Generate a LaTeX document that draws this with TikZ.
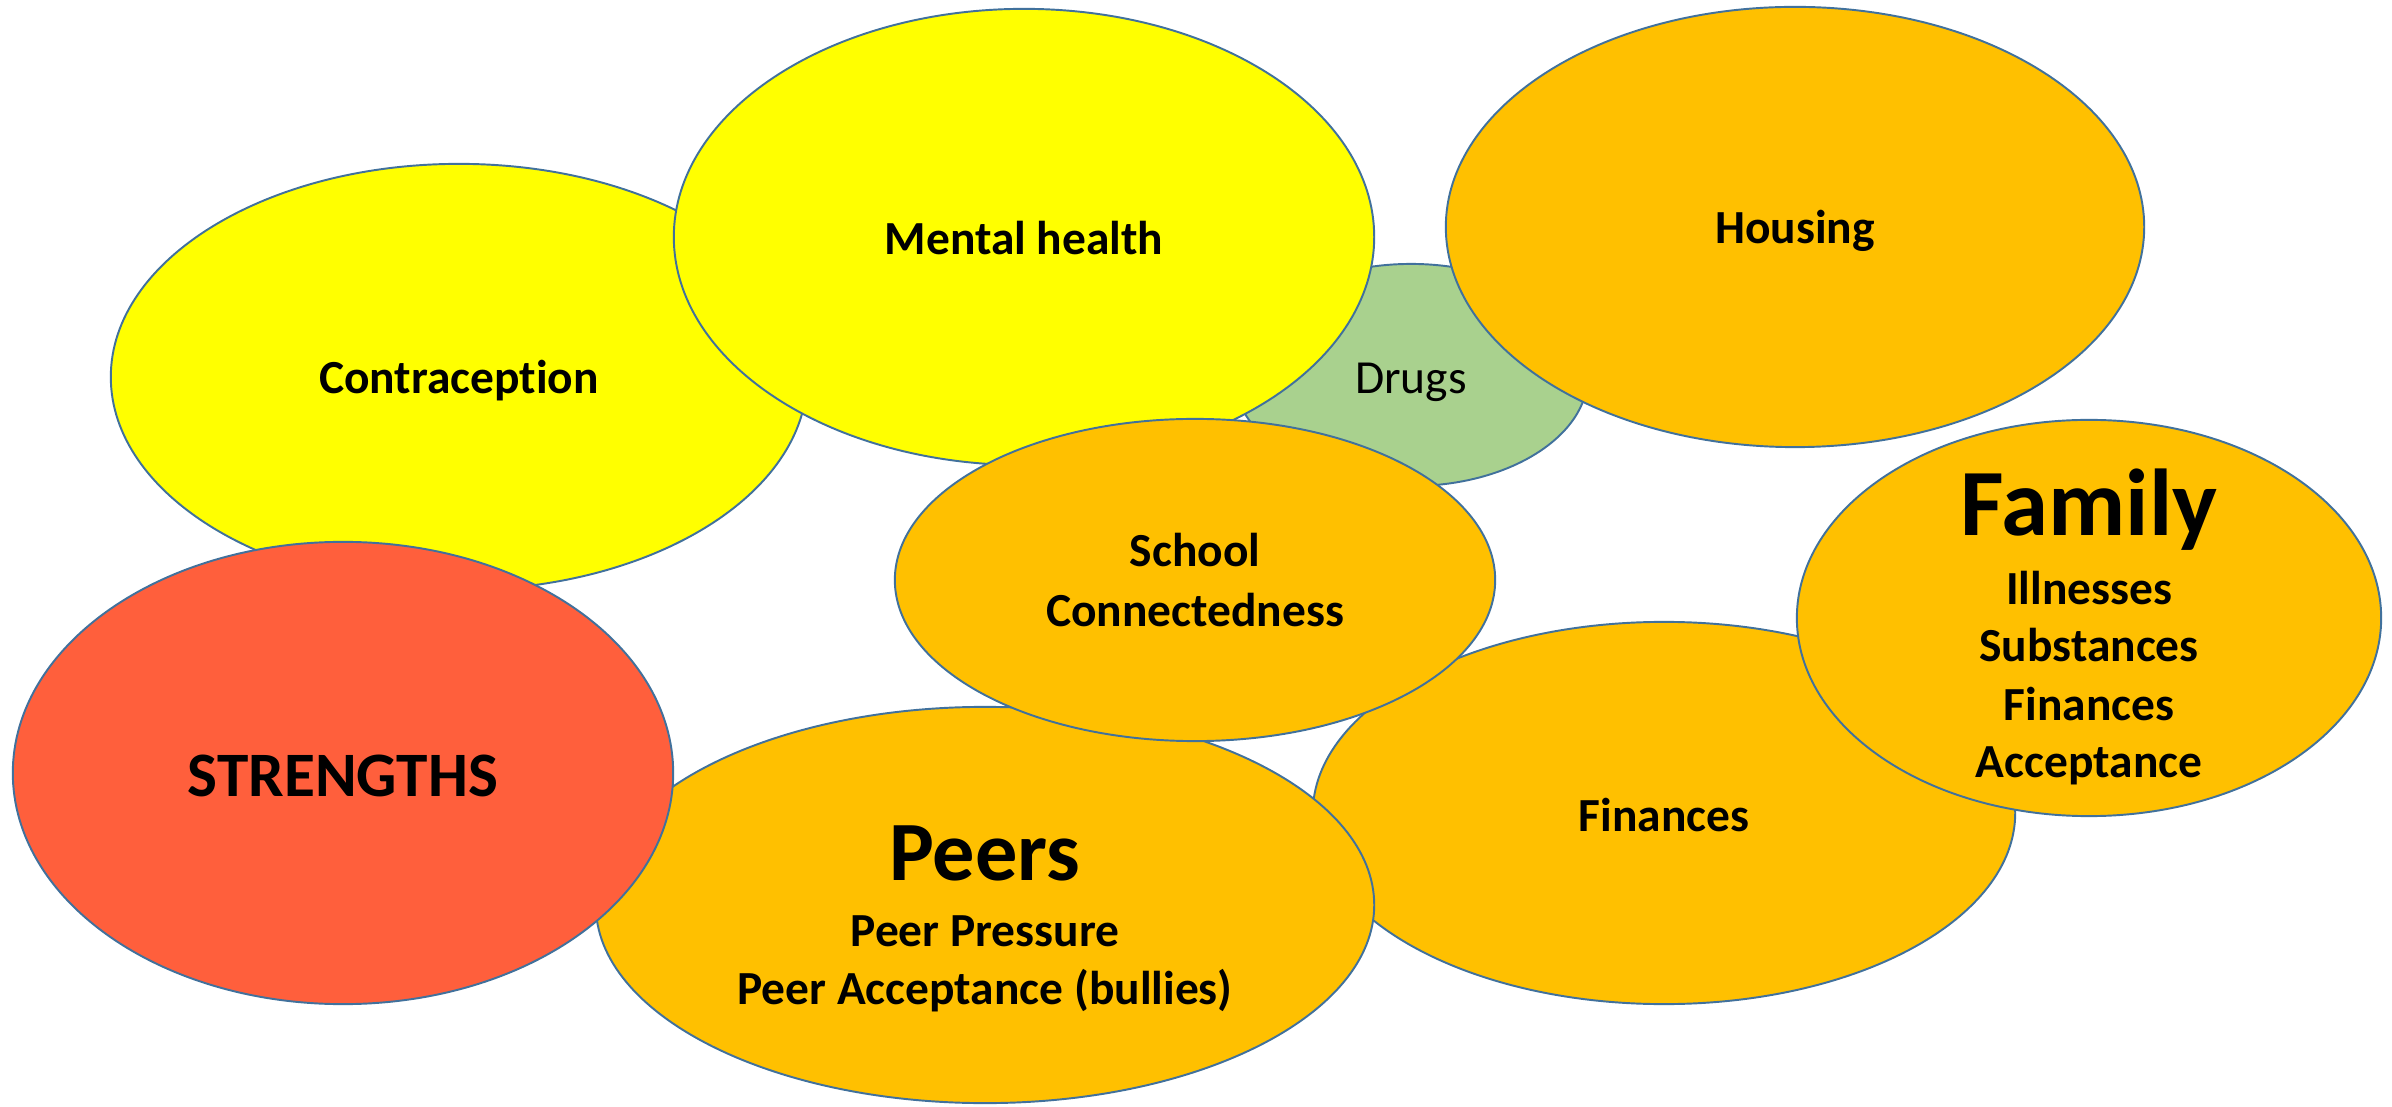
\documentclass[tikz,border=0pt]{standalone}
\usepackage{fontspec}
\setmainfont{Carlito}[Ligatures={NoCommon}]
\usetikzlibrary{shapes.geometric}
\definecolor{yel}{HTML}{FFFF00}
\definecolor{org}{HTML}{FFC000}
\definecolor{grn}{HTML}{A9D18E}
\definecolor{redo}{HTML}{FF5F3C}
\definecolor{edgeblue}{HTML}{41719C}
\begin{document}
\begin{tikzpicture}[x=0.01cm,y=-0.01cm,
  blob/.style={ellipse, draw=edgeblue, line width=0.55pt, inner sep=0pt, outer sep=0pt},
  lab/.style={anchor=base, font=\bfseries\fontsize{13.5}{17}\selectfont, inner sep=0pt},
  biglab/.style={anchor=base, font=\bfseries\fontsize{24}{29}\selectfont, inner sep=0pt}]
\useasboundingbox (0,0) rectangle (2392,1107);
\node[blob, fill=yel, minimum width=6.96cm, minimum height=4.26cm] (contra) at (459,377) {};
\node[blob, fill=grn, minimum width=3.54cm, minimum height=2.22cm] (drugs) at (1411,375) {};
\node[blob, fill=org, minimum width=6.98cm, minimum height=4.40cm] (housing) at (1795,227) {};
\node[blob, fill=yel, minimum width=7.00cm, minimum height=4.56cm] (mental) at (1024,237) {};
\node[blob, fill=org, minimum width=7.02cm, minimum height=3.82cm] (fin) at (1664,813) {};
\node[blob, fill=org, minimum width=7.78cm, minimum height=3.96cm] (peers) at (985,905) {};
\node[blob, fill=redo, minimum width=6.60cm, minimum height=4.62cm] (str) at (343,773) {};
\node[blob, fill=org, minimum width=6.00cm, minimum height=3.22cm] (school) at (1195,580) {};
\node[blob, fill=org, minimum width=5.84cm, minimum height=3.96cm] (family) at (2089,618) {};
% labels
\node[lab] (tcontra) at (459,394) {Contraception};
\node[lab] (tmental) at (1024,255) {Mental health};
\node[lab] (thousing) at (1795,244) {Housing};
\node[lab, font=\fontsize{13.5}{17}\selectfont] (tdrugs) at (1411,394) {Drugs};
\node[lab] (tschool1) at (1195,567) {School};
\node[lab] (tschool2) at (1195,627) {Connectedness};
\node[lab, font=\bfseries\fontsize{18}{22}\selectfont] (tstr) at (343,796) {STRENGTHS};
\node[biglab] (tpeers) at (985,880) {Peers};
\node[lab] (tpeers1) at (985,946) {Peer Pressure};
\node[lab] (tpeers2) at (985,1004) {Peer Acceptance (bullies)};
\node[lab] (tfin) at (1664,831) {Finances};
\node[biglab, font=\bfseries\fontsize{27}{32}\selectfont] (tfamily) at (2089,536) {Family};
\node[lab] (tfam1) at (2089,605) {Illnesses};
\node[lab] (tfam2) at (2089,662) {Substances};
\node[lab] (tfam3) at (2089,720) {Finances};
\node[lab] (tfam4) at (2089,777) {Acceptance};
\end{tikzpicture}
\end{document}
